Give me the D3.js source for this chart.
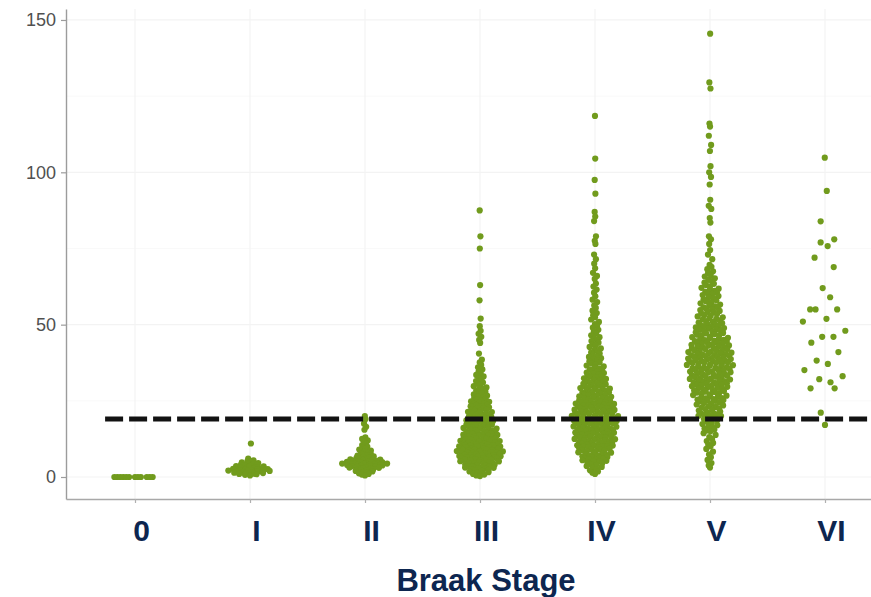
<!DOCTYPE html>
<html><head><meta charset="utf-8">
<script src="https://cdn.jsdelivr.net/npm/d3@7"></script>
<style>html,body{margin:0;padding:0;background:#fff;} svg{display:block;}</style>
</head><body>
<svg id="chart" width="871" height="597"></svg>
<script>
const categories = ["0","I","II","III","IV","V","VI"];
const yTicks = [0, 50, 100, 150];
const yMinorTicks = [25, 75, 125];
const threshold = 19;
const xTitle = "Braak Stage";

const stage0 = [0,0,0,0,0,0,0,0,0,0,0,0];
const stageI = [11, 6, 5.5, 5.2, 5, 4.8, 4.6, 4.5, 4.3, 4.1, 4, 3.9, 3.7, 3.6, 3.5, 3.4, 3.2, 3.1, 3, 2.9, 2.8, 2.7, 2.6, 2.5, 2.5, 2.4, 2.3, 2.3, 2.2, 2.1, 2, 2, 1.9, 1.8, 1.7, 1.6, 1.5, 1.4, 1.3, 1.2, 1.1, 1, 0.9, 0.7, 0.5];
const stageII = [20, 19, 17.5, 16.5, 15.5, 13, 12.5, 12, 11.5, 11, 10.5, 10, 9.6, 9.3, 9, 8.7, 8.4, 8.1, 7.8, 7.6, 7.4, 7.2, 7, 6.8, 6.6, 6.4, 6.3, 6.1, 6, 5.9, 5.8, 5.7, 5.6, 5.5, 5.4, 5.3, 5.2, 5.1, 5, 4.9, 4.8, 4.8, 4.7, 4.6, 4.6, 4.5, 4.4, 4.4, 4.3, 4.2, 4.2, 4.1, 4, 4, 3.9, 3.8, 3.7, 3.6, 3.5, 3.4, 3.3, 3.2, 3.1, 3, 2.9, 2.8, 2.6, 2.5, 2.3, 2.2, 2, 1.8, 1.6, 1.4, 1.2, 1, 0.8, 0.5];
const stageIII = [87.5, 79, 75, 63, 58, 52, 49.5, 48, 47, 46, 45, 44, 40.5,
 38.5, 37.6, 36.8, 36, 35.3,
 34.6, 34, 33.5, 33, 32.4, 31.9, 31.5, 31, 30.6, 30.2,
 29.8, 29.4, 29.1, 28.9, 28.4, 28, 27.8, 27.5, 27.1, 26.7, 26.5, 26.1, 25.9, 25.6, 25.4, 25.1,
 24.8, 24.7, 24.4, 24.1, 24, 23.7, 23.5, 23.3, 23.2, 22.9, 22.6, 22.5, 22.2, 22.1, 21.8, 21.7, 21.4, 21.3, 21.1, 20.8, 20.7, 20.4, 20.3, 20.1,
 19.9, 19.7, 19.6, 19.4, 19.3, 19.1, 18.9, 18.8, 18.6, 18.4, 18.3, 18.1, 17.9, 17.8, 17.6, 17.5, 17.3, 17.2, 17, 16.8, 16.7, 16.5, 16.4, 16.2, 16.1, 15.9, 15.8, 15.6, 15.5, 15.3, 15.2, 15.1,
 14.9, 14.8, 14.7, 14.5, 14.4, 14.3, 14.2, 14, 13.9, 13.8, 13.7, 13.5, 13.4, 13.3, 13.2, 13, 12.9, 12.8, 12.7, 12.5, 12.4, 12.3, 12.2, 12, 11.9, 11.8, 11.7, 11.5, 11.4, 11.3, 11.2, 11, 10.9, 10.8, 10.7, 10.6, 10.5, 10.4, 10.3, 10.2, 10.1, 10,
 9.9, 9.8, 9.7, 9.6, 9.5, 9.4, 9.3, 9.2, 9.1, 9, 8.9, 8.8, 8.7, 8.6, 8.5, 8.4, 8.3, 8.2, 8.1, 8, 7.9, 7.8, 7.7, 7.6, 7.5, 7.4, 7.3, 7.2, 7.1, 7, 6.9, 6.8, 6.7, 6.6, 6.5, 6.4, 6.3, 6.2, 6.1, 6, 5.9, 5.8, 5.7, 5.6, 5.5, 5.4, 5.2, 5.1,
 4.9, 4.8, 4.6, 4.5, 4.4, 4.3, 4.1, 4, 3.9, 3.8, 3.6, 3.5, 3.4, 3.2, 3.1, 3, 2.8, 2.7, 2.5, 2.3, 2.2, 2, 1.8, 1.6, 1.4, 1.2, 1, 0.8, 0.5, 0.3];
const stageIV = [118.5, 104.5, 97.5, 93, 87, 85.5, 84, 79, 77.5, 76.5, 73, 71.5, 70, 68.5, 67, 66, 65, 63.5, 62.5, 61.5, 60.5,
 59.3, 58.2, 57.4, 56.3, 55.5,
 54.6, 53.8, 53.1, 52.4, 51.7, 50.9, 50.2,
 49.6, 49, 48.3, 47.7, 47.1, 46.5, 45.9, 45.4, 45,
 44.6, 44.1, 43.6, 43.2, 42.7, 42.2, 41.7, 41.3, 40.9, 40.5, 40.1,
 39.7, 39.4, 39, 38.7, 38.3, 38, 37.6, 37.3, 36.9, 36.6, 36.3, 35.9, 35.6, 35.3, 35.1,
 34.8, 34.6, 34.3, 34.1, 33.9, 33.6, 33.4, 33.1, 32.9, 32.7, 32.4, 32.2, 31.9, 31.7, 31.5, 31.3, 31, 30.8, 30.6, 30.4, 30.2, 30,
 29.8, 29.7, 29.5, 29.3, 29.2, 29, 28.8, 28.7, 28.5, 28.3, 28.2, 28, 27.8, 27.7, 27.5, 27.3, 27.2, 27, 26.8, 26.7, 26.5, 26.3, 26.2, 26, 25.8, 25.7, 25.5, 25.3, 25.2, 25,
 24.9, 24.8, 24.6, 24.5, 24.4, 24.3, 24.1, 24, 23.9, 23.8, 23.6, 23.5, 23.4, 23.3, 23.1, 23, 22.9, 22.8, 22.6, 22.5, 22.4, 22.3, 22.1, 22, 21.9, 21.8, 21.6, 21.5, 21.4, 21.3, 21.1, 21, 20.9, 20.8, 20.6, 20.5, 20.4, 20.3, 20.1, 20,
 19.9, 19.8, 19.7, 19.6, 19.5, 19.4, 19.3, 19.2, 19.1, 19, 18.9, 18.8, 18.7, 18.6, 18.5, 18.4, 18.3, 18.2, 18.1, 18, 17.9, 17.8, 17.7, 17.6, 17.5, 17.4, 17.2, 17.1, 16.9, 16.8, 16.6, 16.5, 16.4, 16.2, 16.1, 15.9, 15.8, 15.7, 15.6, 15.4, 15.3, 15.2, 15.1, 15,
 14.9, 14.8, 14.6, 14.5, 14.4, 14.2, 14.1, 14, 13.8, 13.7, 13.6, 13.4, 13.3, 13.2, 13, 12.9, 12.8, 12.6, 12.5, 12.4, 12.2, 12.1, 12, 11.8, 11.7, 11.6, 11.4, 11.3, 11.2, 11, 10.9, 10.8, 10.6, 10.5, 10.4, 10.3, 10.2, 10.1, 10.05, 10,
 9.8, 9.6, 9.5, 9.3, 9.1, 9, 8.8, 8.6, 8.5, 8.3, 8.1, 8, 7.8, 7.6, 7.5, 7.3, 7.1, 7, 6.8, 6.6, 6.5, 6.3, 6.1, 6, 5.8, 5.6, 5.5, 5.3, 5.2, 5.1,
 4.8, 4.5, 4.2, 3.9, 3.6, 3.3, 3, 2.6, 2.2, 1.8, 1.4, 1];
const stageV = [145.5, 129.5, 127.5, 116, 115, 112, 109, 107, 102, 100, 98.5, 96, 91, 89, 88, 85, 83.5, 79, 78, 76.5, 74.5, 73, 71.5,
 69.6, 69, 68.2, 67.5, 66.9, 66.3, 65.8, 65.2,
 64.7, 64.3, 63.8, 63.4, 63, 62.6, 62.1, 61.8, 61.5, 61.1, 60.8, 60.5, 60.3, 60.1,
 59.7, 59.4, 59, 58.6, 58.3, 58, 57.7, 57.3, 57, 56.6, 56.3, 56, 55.7, 55.5, 55.2, 55,
 54.8, 54.5, 54.2, 54, 53.7, 53.5, 53.2, 53, 52.7, 52.4, 52.2, 51.9, 51.7, 51.4, 51.2, 50.9, 50.7, 50.5, 50.3, 50.1,
 49.9, 49.7, 49.5, 49.3, 49.1, 48.9, 48.7, 48.5, 48.3, 48.1, 47.9, 47.7, 47.5, 47.3, 47.1, 46.9, 46.7, 46.5, 46.3, 46.1, 45.9, 45.7, 45.5, 45.4, 45.2, 45,
 44.9, 44.7, 44.6, 44.4, 44.3, 44.1, 44, 43.8, 43.7, 43.5, 43.4, 43.2, 43.1, 42.9, 42.8, 42.6, 42.5, 42.3, 42.2, 42, 41.9, 41.7, 41.6, 41.4, 41.3, 41.1, 41, 40.8, 40.7, 40.5, 40.4, 40.3, 40.1, 40,
 39.9, 39.8, 39.6, 39.5, 39.4, 39.2, 39.1, 39, 38.9, 38.7, 38.6, 38.5, 38.4, 38.2, 38.1, 38, 37.9, 37.7, 37.6, 37.5, 37.4, 37.2, 37.1, 37, 36.8, 36.7, 36.5, 36.4, 36.2, 36.1, 35.9, 35.8, 35.7, 35.5, 35.4, 35.3, 35.1, 35,
 34.9, 34.7, 34.6, 34.4, 34.3, 34.1, 34, 33.8, 33.7, 33.5, 33.4, 33.2, 33.1, 32.9, 32.8, 32.6, 32.5, 32.3, 32.2, 32, 31.9, 31.7, 31.6, 31.4, 31.3, 31.1, 31, 30.8, 30.7, 30.5, 30.4, 30.3, 30.1, 30,
 29.8, 29.6, 29.5, 29.3, 29.1, 29, 28.8, 28.6, 28.4, 28.2, 28, 27.9, 27.7, 27.5, 27.3, 27.1, 26.9, 26.7, 26.5, 26.3, 26.1, 25.9, 25.8, 25.6, 25.4, 25.3, 25.1, 25,
 24.8, 24.5, 24.3, 24, 23.8, 23.5, 23.3, 23, 22.8, 22.5, 22.3, 22, 21.8, 21.5, 21.3, 21, 20.8, 20.6, 20.4, 20.2, 20.1, 20,
 19.7, 19.3, 19, 18.6, 18.2, 17.8, 17.4, 17, 16.6, 16.2, 15.9, 15.6, 15.3, 15,
 14.4, 13.8, 13.1, 12.5, 11.8, 11.2, 10.6, 10.1,
 9.2, 8.3, 7.4, 6.5, 5.6,
 4.6, 3.8, 3.1];
const stageVI = [104.8, 93.9, 83.9, 78, 77, 75.8, 72, 68.9, 62, 59, 55, 55, 55, 51.9, 51, 48, 46, 46, 44.1, 41, 38.2, 37.1, 35.1, 33.1, 32.1, 31.1, 29.1, 29.1, 21.1, 17.1];

const seriesValues = [stage0, stageI, stageII, stageIII, stageIV, stageV, stageVI];

const svg = d3.select("#chart");
const y = d3.scaleLinear().domain([-7.22, 153.6]).range([499, 9]);
const x = d3.scalePoint().domain(categories).range([66, 894]).padding(0.6);
const step = x.step();

// grid
const grid = svg.append("g");
grid.selectAll("line.minor").data(yMinorTicks).join("line")
  .attr("x1", 66).attr("x2", 894).attr("y1", d => y(d)).attr("y2", d => y(d))
  .attr("stroke", "#f9f9f9").attr("stroke-width", 1);
grid.selectAll("line.major").data(yTicks).join("line")
  .attr("x1", 66).attr("x2", 894).attr("y1", d => y(d)).attr("y2", d => y(d))
  .attr("stroke", "#f3f3f3").attr("stroke-width", 1.2);
grid.selectAll("line.vert").data(categories).join("line")
  .attr("x1", d => x(d)).attr("x2", d => x(d)).attr("y1", 9).attr("y2", 499)
  .attr("stroke", "#f4f4f4").attr("stroke-width", 1.2);

// quasirandom layout
function vdc(n) { let v = 0, denom = 1; while (n > 0) { denom *= 2; v += (n % 2) / denom; n = Math.floor(n / 2); } return v; }
function layout(vals) {
  const n = vals.length;
  const sorted = vals.slice().sort(d3.ascending);
  const sd = d3.deviation(vals) || 0;
  const iqr = (d3.quantile(sorted, 0.75) - d3.quantile(sorted, 0.25)) / 1.34;
  let lo = Math.min(sd, iqr);
  if (!(lo > 0)) lo = sd > 0 ? sd : 1;
  const bw = 0.5 * 0.9 * lo * Math.pow(n, -0.2);
  const dens = vals.map(v => d3.sum(vals, w => Math.exp(-0.5 * ((v - w) / bw) ** 2)));
  const maxD = d3.max(dens);
  const idx = d3.range(n).sort((a, b) => vals[a] - vals[b] || a - b);
  const rank = new Array(n);
  idx.forEach((k, r) => rank[k] = r + 1);
  return vals.map((v, i) => ({ v, off: (vdc(rank[i]) - 0.5) * 2 * (dens[i] / maxD) * 0.205 }));
}

const pts = [];
seriesValues.forEach((vals, gi) => {
  layout(vals).forEach(p => pts.push({ cat: categories[gi], v: p.v, off: p.off }));
});

svg.append("g").selectAll("circle").data(pts).join("circle")
  .attr("cx", d => x(d.cat) + d.off * step)
  .attr("cy", d => y(d.v))
  .attr("r", 3.1)
  .attr("fill", "#719b1d");

// threshold line
svg.append("line")
  .attr("x1", x(categories[0]) - 0.26 * step).attr("x2", 894)
  .attr("y1", y(threshold)).attr("y2", y(threshold))
  .attr("stroke", "#121212").attr("stroke-width", 5)
  .attr("stroke-dasharray", "18,6");

// axes
const yAxis = svg.append("g").attr("transform", "translate(66,0)")
  .call(d3.axisLeft(y).tickValues(yTicks).tickSize(5).tickPadding(5).tickSizeOuter(0));
yAxis.select(".domain").attr("stroke", "#9c9c9c").attr("stroke-width", 1.4);
yAxis.selectAll(".tick line").attr("stroke", "#9c9c9c").attr("stroke-width", 1.2);
yAxis.selectAll(".tick text").attr("font-family", "Liberation Sans, Arial, sans-serif")
  .attr("font-size", 18).attr("fill", "#505050");

const xAxis = svg.append("g").attr("transform", "translate(0,499)")
  .call(d3.axisBottom(x).tickSize(4).tickSizeOuter(0));
xAxis.select(".domain").attr("stroke", "#a8a8a8").attr("stroke-width", 1.4);
xAxis.selectAll(".tick line").attr("stroke", "#b0b0b0").attr("stroke-width", 1.2);
xAxis.selectAll(".tick text")
  .attr("y", 42).attr("dy", 0).attr("dx", 6)
  .attr("font-family", "Liberation Sans, Arial, sans-serif")
  .attr("font-weight", "bold").attr("font-size", 30).attr("fill", "#0d2650");

svg.append("text")
  .attr("x", 486).attr("y", 591).attr("text-anchor", "middle")
  .attr("font-family", "Liberation Sans, Arial, sans-serif")
  .attr("font-weight", "bold").attr("font-size", 31).attr("fill", "#0d2650")
  .text(xTitle);
</script>
</body></html>
